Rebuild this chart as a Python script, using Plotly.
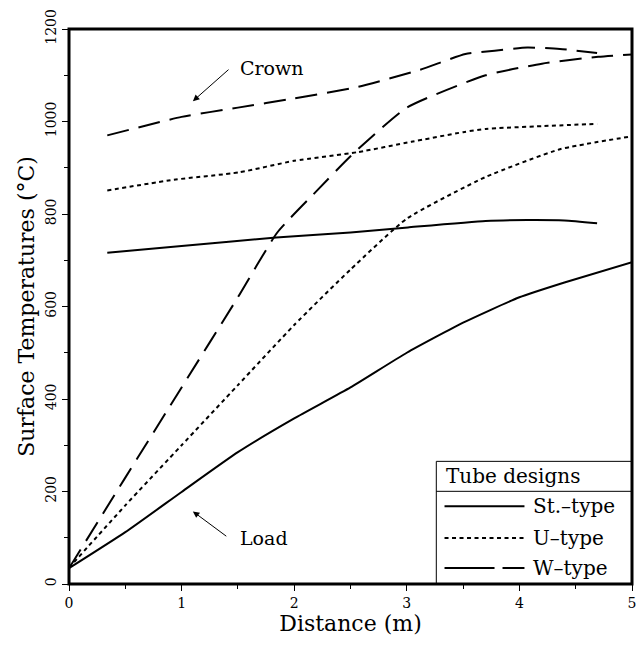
import plotly.graph_objects as go

# ---- data ----
crown_st_x = [0.34, 1.0, 1.84, 2.5, 3.01, 3.70, 4.07, 4.40, 4.69]
crown_st_y = [716, 731, 749, 760, 771, 785, 787, 786, 780]

crown_u_x = [0.34, 0.93, 1.51, 2.0, 2.57, 3.04, 3.50, 3.70, 4.2, 4.69]
crown_u_y = [851, 874, 890, 915, 934, 956, 977, 984, 990, 995]

crown_w_x = [0.34, 1.0, 1.5, 2.0, 2.57, 3.12, 3.52, 3.78, 4.07, 4.36, 4.69]
crown_w_y = [970, 1010, 1030, 1050, 1075, 1112, 1146, 1153, 1160, 1157, 1148]

load_st_x = [0.0, 0.5, 1.0, 1.5, 2.0, 2.5, 3.0, 3.5, 4.0, 4.4, 5.0]
load_st_y = [34, 112, 199, 285, 358, 425, 500, 565, 620, 652, 696]

load_u_x = [0.0, 0.5, 1.0, 1.5, 2.0, 2.5, 3.0, 3.7, 4.36, 5.0]
load_u_y = [35, 170, 300, 430, 560, 680, 790, 880, 940, 968]

load_w_x = [0.0, 0.5, 1.0, 1.5, 1.85, 2.2, 2.5, 3.0, 3.7, 4.2, 4.7, 5.0]
load_w_y = [34, 230, 425, 620, 760, 850, 925, 1030, 1100, 1125, 1140, 1145]

series_names = ["St.\u2013type", "U\u2013type", "W\u2013type"]
legend_title = "Tube designs"
x_ticks = [0, 1, 2, 3, 4, 5]
y_ticks = [0, 200, 400, 600, 800, 1000, 1200]

FONT = "DejaVu Serif"
dash_st = "solid"
dash_u = "4px,3.5px"
dash_w = "22px,10px"
LW = 2

fig = go.Figure()

def add(x, y, dash, name):
    fig.add_trace(go.Scatter(
        x=x, y=y, mode="lines", name=name, showlegend=False,
        line=dict(color="black", width=LW, dash=dash, shape="spline", smoothing=0.5),
    ))

add(load_st_x, load_st_y, dash_st, series_names[0])
add(load_u_x, load_u_y, dash_u, series_names[1])
add(load_w_x, load_w_y, dash_w, series_names[2])
add(crown_st_x, crown_st_y, dash_st, series_names[0])
add(crown_u_x, crown_u_y, dash_u, series_names[1])
add(crown_w_x, crown_w_y, dash_w, series_names[2])

# annotations
fig.add_annotation(x=1.10, y=1044, ax=1.43, ay=1115, axref="x", ayref="y",
                   xref="x", yref="y", text="", showarrow=True,
                   arrowhead=2, arrowsize=1.3, arrowwidth=1, arrowcolor="black")
fig.add_annotation(x=1.50, y=1115, xref="x", yref="y", text="Crown",
                   showarrow=False, xanchor="left", yanchor="middle",
                   font=dict(family=FONT, size=19, color="black"))
fig.add_annotation(x=1.10, y=157, ax=1.41, ay=101, axref="x", ayref="y",
                   xref="x", yref="y", text="", showarrow=True,
                   arrowhead=2, arrowsize=1.3, arrowwidth=1, arrowcolor="black")
fig.add_annotation(x=1.50, y=99, xref="x", yref="y", text="Load",
                   showarrow=False, xanchor="left", yanchor="middle",
                   font=dict(family=FONT, size=19, color="black"))

# ---- legend box (drawn in paper coordinates) ----
fig.add_shape(type="rect", xref="paper", yref="paper", x0=0.6524, x1=1.0,
              y0=0.0, y1=0.221, line=dict(color="black", width=1),
              fillcolor="white", layer="above")
fig.add_shape(type="line", xref="paper", yref="paper", x0=0.6524, x1=1.0,
              y0=0.167, y1=0.167, line=dict(color="black", width=1), layer="above")
fig.add_annotation(x=0.666, y=0.194, xref="paper", yref="paper", text=legend_title,
                   showarrow=False, xanchor="left", yanchor="middle",
                   font=dict(family=FONT, size=20, color="black"))
legend_rows = [0.140, 0.0827, 0.0288]
legend_dash = [dash_st, dash_u, "50px,8px,22px"]
for name, yy, dsh in zip(series_names, legend_rows, legend_dash):
    fig.add_shape(type="line", xref="paper", yref="paper", x0=0.667, x1=0.809,
                  y0=yy, y1=yy, line=dict(color="black", width=LW, dash=dsh),
                  layer="above")
    fig.add_annotation(x=0.821, y=yy, xref="paper", yref="paper", text=name,
                       showarrow=False, xanchor="left", yanchor="middle",
                       font=dict(family=FONT, size=20, color="black"))

# heavy plot frame
fig.add_shape(type="rect", xref="paper", yref="paper", x0=0, x1=1, y0=0, y1=1,
              line=dict(color="black", width=3), layer="above")

axis_common = dict(
    showgrid=False, zeroline=False, showline=False,
    ticks="outside", ticklen=6, tickwidth=1,
    tickcolor="black", automargin=False, ticklabeloverflow="allow",
    tickfont=dict(family=FONT, size=14, color="black"),
)

fig.update_xaxes(range=[0, 5], tickvals=x_ticks, ticktext=[str(v) for v in x_ticks],
                 minor=dict(dtick=0.5, ticks="outside", ticklen=4, tickcolor="black"),
                 title=dict(text="Distance (m)", font=dict(family=FONT, size=22, color="black"),
                            standoff=2),
                 **axis_common)
fig.update_yaxes(range=[0, 1200], tickvals=y_ticks, ticktext=[str(v) for v in y_ticks],
                 tickangle=-90,
                 minor=dict(dtick=100, ticks="outside", ticklen=4, tickcolor="black"),
                 title=dict(text="Surface Temperatures (\u00b0C)",
                            font=dict(family=FONT, size=22, color="black"), standoff=2),
                 **axis_common)

fig.update_layout(
    width=628, height=629,
    margin=dict(l=61, r=4, t=21, b=53),
    paper_bgcolor="white", plot_bgcolor="white",
    font=dict(family=FONT, color="black"),
    showlegend=False,
)

fig.write_html("out.html")
